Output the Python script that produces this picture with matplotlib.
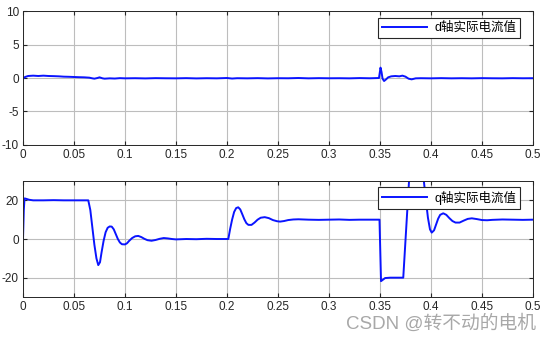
import matplotlib
matplotlib.use('Agg')
import matplotlib.pyplot as plt

plt.rcParams['font.family'] = ['Liberation Sans', 'Noto Sans CJK SC', 'DejaVu Sans']
plt.rcParams['axes.unicode_minus'] = False

# d-axis current (top)
t_d = [0, 0.002, 0.005, 0.01, 0.015, 0.02, 0.025, 0.03, 0.035, 0.04, 0.045, 0.05,
       0.055, 0.06, 0.065, 0.068, 0.07, 0.073, 0.075, 0.078, 0.08, 0.085, 0.09,
       0.095, 0.1, 0.11, 0.12, 0.13, 0.14, 0.15, 0.16, 0.17, 0.18, 0.19, 0.2,
       0.205, 0.21, 0.22, 0.23, 0.24, 0.25, 0.26, 0.27, 0.28, 0.29, 0.3, 0.31,
       0.32, 0.33, 0.34, 0.349, 0.3505, 0.3515, 0.3525, 0.354, 0.356, 0.358,
       0.361, 0.365, 0.369, 0.372, 0.375, 0.378, 0.381, 0.385, 0.39, 0.4, 0.41,
       0.42, 0.43, 0.44, 0.45, 0.46, 0.47, 0.48, 0.49, 0.5]
i_d = [-0.1, 0.15, 0.3, 0.35, 0.3, 0.35, 0.3, 0.28, 0.25, 0.2, 0.18, 0.15,
       0.12, 0.1, 0.05, -0.05, -0.1, 0.0, 0.1, -0.05, -0.1, -0.05, -0.08,
       -0.02, -0.05, -0.03, -0.06, -0.02, -0.04, -0.05, -0.02, -0.06, -0.03, -0.05, 0.0,
       -0.08, -0.03, -0.05, -0.02, -0.06, -0.03, -0.04, 0.0, -0.05, -0.02, -0.04, -0.03,
       -0.05, -0.01, -0.04, 0.0, 1.55, 0.9, -0.1, -0.45, -0.2, 0.1,
       0.25, 0.3, 0.25, 0.35, 0.2, -0.1, -0.2, -0.05, -0.03, -0.05, -0.02,
       -0.05, -0.03, -0.05, -0.02, -0.04, -0.05, -0.02, -0.04, -0.03]

# q-axis current (bottom)
t_q = [0, 0.0008, 0.0015, 0.003, 0.006, 0.01, 0.02, 0.03, 0.04, 0.05, 0.06, 0.064,
       0.066, 0.068, 0.07, 0.072, 0.0738, 0.0755, 0.077, 0.079, 0.081, 0.083, 0.085,
       0.087, 0.089, 0.091, 0.093, 0.095, 0.097, 0.1, 0.102, 0.104, 0.107, 0.11,
       0.113, 0.116, 0.119, 0.122, 0.126, 0.13, 0.134, 0.138, 0.142, 0.146, 0.15,
       0.16, 0.17, 0.18, 0.19, 0.2013, 0.203, 0.205, 0.207, 0.209, 0.211, 0.213,
       0.215, 0.217, 0.219, 0.221, 0.224, 0.227, 0.23, 0.233, 0.237, 0.241, 0.245,
       0.249, 0.252, 0.256, 0.26, 0.265, 0.27, 0.28, 0.29, 0.3, 0.31, 0.32, 0.33,
       0.34, 0.3495, 0.351, 0.353, 0.355, 0.36, 0.3728, 0.3787, 0.381, 0.385,
       0.389, 0.393, 0.395, 0.397, 0.399, 0.4007, 0.403, 0.405, 0.407, 0.409,
       0.412, 0.415, 0.418, 0.421, 0.424, 0.428, 0.432, 0.436, 0.44, 0.445, 0.45,
       0.455, 0.46, 0.47, 0.48, 0.49, 0.5]
i_q = [0, 15, 21, 20.8, 20.3, 20, 20, 20.1, 20, 20, 20, 20,
       15, 6, -3, -10, -13.5, -12, -7, -1, 3.5, 5.8, 6.5,
       6.4, 5, 2.5, 0, -1.8, -2.7, -2.8, -2.2, -1, 0.5, 1.4,
       1.6, 1.0, 0.1, -0.6, -0.9, -0.5, 0.1, 0.5, 0.3, 0, -0.2,
       0, -0.1, 0.1, 0, 0, 5, 10, 14, 16, 16.4, 15.3,
       12.8, 10.2, 8.2, 7.3, 7.3, 8.5, 10, 11, 11.3, 10.8, 9.8,
       9.2, 9.0, 9.3, 9.8, 10.1, 10.2, 10, 9.9, 10, 10.1, 9.9, 10,
       10, 10, -21.8, -21, -20.2, -20, -20, 32, 38, 42,
       40, 30, 20, 11, 5, 3.3, 4.5, 7.5, 10.5, 12.5,
       13.3, 12.5, 10.8, 9.3, 8.5, 8.5, 9.5, 10.4, 10.7, 10.3, 9.8,
       9.7, 9.9, 10.1, 10, 9.9, 10]

x_ticks = [0, 0.05, 0.1, 0.15, 0.2, 0.25, 0.3, 0.35, 0.4, 0.45, 0.5]
x_labels = ['0', '0.05', '0.1', '0.15', '0.2', '0.25', '0.3', '0.35', '0.4', '0.45', '0.5']

fig = plt.figure(figsize=(5.54, 3.41), dpi=100)
ax1 = fig.add_axes([0.0415, 0.5748, 0.9206, 0.3929])
ax2 = fig.add_axes([0.0415, 0.129, 0.9206, 0.3402])

for ax, t, y, lim, yt, name in [
        (ax1, t_d, i_d, (-10, 10), [-10, -5, 0, 5, 10], 'd轴实际电流值'),
        (ax2, t_q, i_q, (-30, 30), [-20, 0, 20], 'q轴实际电流值')]:
    ax.plot(t, y, color='#0a14ff', lw=1.4, label=name)
    ax.set_xlim(0, 0.5)
    ax.set_ylim(*lim)
    ax.set_xticks(x_ticks)
    ax.set_xticklabels(x_labels)
    ax.set_yticks(yt)
    ax.grid(True, color='#bdbdbd', lw=0.8)
    ax.tick_params(direction='in', length=3, labelsize=8.5, colors='#262626',
                   top=True, right=True, pad=3)
    for s in ax.spines.values():
        s.set_color('#262626')
        s.set_linewidth(0.7)
    leg = ax.legend(loc='upper right', bbox_to_anchor=(0.9745, 0.948),
                    fontsize=9, fancybox=False, framealpha=1,
                    edgecolor='#262626', handlelength=3.6, borderpad=0.3,
                    borderaxespad=0, handletextpad=0.6)
    leg.get_frame().set_linewidth(0.8)

fig.text(0.968, 0.052, 'CSDN @转不动的电机', ha='right', va='center',
         fontsize=13.5, color='#a8a8a8',
         family=['Liberation Sans', 'Noto Sans CJK SC'])

fig.savefig('out.png', dpi=100)
